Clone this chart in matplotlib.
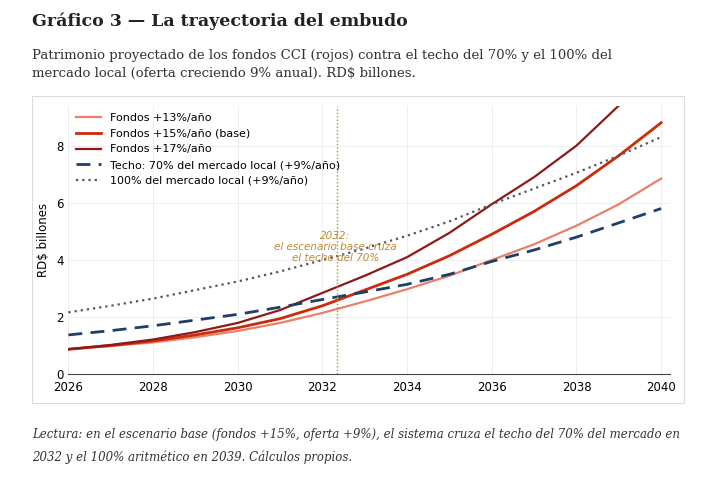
import matplotlib
matplotlib.use("Agg")
import matplotlib.pyplot as plt

years = list(range(2026, 2041))
fondos13 = [0.88, 0.99, 1.12, 1.30, 1.52, 1.80, 2.15, 2.55, 2.98, 3.45, 4.00, 4.55, 5.20, 5.95, 6.85]
fondos15 = [0.88, 1.01, 1.17, 1.38, 1.63, 1.95, 2.40, 2.95, 3.50, 4.15, 4.90, 5.70, 6.60, 7.65, 8.80]
fondos17 = [0.88, 1.03, 1.22, 1.48, 1.80, 2.25, 2.85, 3.45, 4.10, 4.95, 5.95, 6.90, 8.00, 9.40, 10.9]
techo70 = [1.38, 1.53, 1.70, 1.90, 2.10, 2.35, 2.62, 2.88, 3.15, 3.50, 3.95, 4.35, 4.80, 5.30, 5.80]
mercado100 = [2.17, 2.40, 2.65, 2.95, 3.25, 3.60, 4.00, 4.40, 4.85, 5.35, 5.95, 6.50, 7.05, 7.65, 8.30]
cruce = 2032.35

fig = plt.figure(figsize=(7.2, 4.8), dpi=100)
fig.text(0.045, 0.945, "Gráfico 3 — La trayectoria del embudo", family="DejaVu Serif",
         fontsize=12.5, fontweight="bold", color="#222222")
fig.text(0.045, 0.84, "Patrimonio proyectado de los fondos CCI (rojos) contra el techo del 70% y el 100% del\n"
         "mercado local (oferta creciendo 9% anual). RD$ billones.", family="DejaVu Serif",
         fontsize=9.5, color="#333333", linespacing=1.5)
fig.text(0.045, 0.04, "Lectura: en el escenario base (fondos +15%, oferta +9%), el sistema cruza el techo del 70% del mercado en\n"
         "2032 y el 100% aritmético en 2039. Cálculos propios.", family="DejaVu Serif",
         fontsize=8.5, style="italic", color="#333333", linespacing=1.9)

# marco claro alrededor del grafico
frame = plt.Rectangle((0.045, 0.16), 0.905, 0.64, transform=fig.transFigure,
                      fill=False, edgecolor="#dddddd", lw=0.8)
fig.add_artist(frame)

ax = fig.add_axes([0.095, 0.22, 0.835, 0.56])
ax.plot(years, fondos13, color="#e8806a", lw=1.6, label="Fondos +13%/año")
ax.plot(years, fondos15, color="#cc2a0a", lw=2.0, label="Fondos +15%/año (base)")
ax.plot(years, fondos17, color="#8b1a1a", lw=1.6, label="Fondos +17%/año")
ax.plot(years, techo70, color="#1f3f66", lw=2.0, ls=(0, (5, 3)), label="Techo: 70% del mercado local (+9%/año)")
ax.plot(years, mercado100, color="#555555", lw=1.6, ls=(0, (1, 1.8)), label="100% del mercado local (+9%/año)")
ax.axvline(cruce, color="#c08a30", lw=1, ls=(0, (1, 1.5)))
ax.text(cruce - 0.05, 4.45, "2032:\nel escenario base cruza\nel techo del 70%", ha="center", va="center",
        fontsize=7.5, color="#c08a30", style="italic", linespacing=1.1)

ax.set_xlim(2026, 2040.2)
ax.set_ylim(0, 9.4)
ax.set_xticks(range(2026, 2041, 2))
ax.set_yticks([0, 2, 4, 6, 8])
ax.set_ylabel("RD$ billones", fontsize=8.5)
ax.tick_params(labelsize=8.5, length=0)
ax.tick_params(axis="x", pad=5)
ax.grid(color="#eeeeee", lw=0.7)
for s in ["top", "right", "left"]:
    ax.spines[s].set_visible(False)
ax.spines["bottom"].set_color("#444444")
ax.legend(loc="upper left", frameon=False, fontsize=8, handlelength=2.2, borderaxespad=0.3)

fig.savefig("out.png", dpi=100)
